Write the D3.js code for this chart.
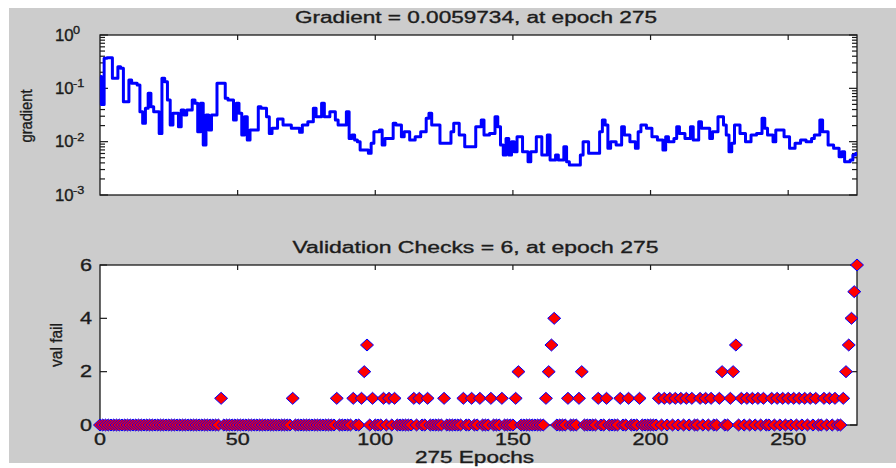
<!DOCTYPE html>
<html><head><meta charset="utf-8">
<script src="https://cdn.jsdelivr.net/npm/d3@7"></script>
<style>
body{margin:0;background:#fff;}
svg{display:block;}
text{font-family:"Liberation Sans",Arial,sans-serif;fill:#1c1c1c;stroke:#1c1c1c;stroke-width:0.35px;}
</style>
</head><body>
<svg id="c" width="896" height="468"></svg>
<script>
// ---------------- data ----------------
const gradTitle = "Gradient = 0.0059734, at epoch 275";
const valTitle = "Validation Checks = 6, at epoch 275";
const xLabel = "275 Epochs";
const gradLabel = "gradient";
const valLabel = "val fail";
const maxEpoch = 275;
const xTicks = [0, 50, 100, 150, 200, 250];
const gradTickExps = [0, -1, -2, -3];
const valTicks = [0, 2, 4, 6];

const gradient = [
  0.166, 0.050, 0.365, 0.376, 0.376, 0.154, 0.154, 0.255, 0.237, 0.0562,
  0.0562, 0.143, 0.124, 0.124, 0.115, 0.0365, 0.0221, 0.0422, 0.0806, 0.0453,
  0.0365, 0.0365, 0.0143, 0.154, 0.133, 0.0604, 0.0205, 0.0340, 0.0340, 0.0191,
  0.0393, 0.0316, 0.0393, 0.0393, 0.0604, 0.0524, 0.0154, 0.0524, 0.00866, 0.0316,
  0.0166, 0.0316, 0.0316, 0.124, 0.124, 0.124, 0.0649, 0.0604, 0.0604, 0.0255,
  0.0524, 0.0340, 0.0133, 0.0294, 0.0107, 0.0166, 0.0166, 0.0166, 0.0453, 0.0422,
  0.0422, 0.0294, 0.0143, 0.0178, 0.0178, 0.0266, 0.0266, 0.0205, 0.0205, 0.0205,
  0.0178, 0.0178, 0.0178, 0.0150, 0.0205, 0.0205, 0.0237, 0.0237, 0.0422, 0.0294,
  0.0294, 0.0524, 0.0294, 0.0294, 0.0365, 0.0365, 0.0255, 0.0205, 0.0205, 0.0205,
  0.0365, 0.0115, 0.0133, 0.0107, 0.0100, 0.00698, 0.00698, 0.00698, 0.00604, 0.00931,
  0.0154, 0.0154, 0.0166, 0.00866, 0.0115, 0.0115, 0.0115, 0.0221, 0.0205, 0.0205,
  0.0124, 0.0154, 0.0154, 0.0107, 0.0107, 0.0124, 0.0124, 0.0154, 0.0154, 0.0274,
  0.0340, 0.0205, 0.0205, 0.0205, 0.00931, 0.00931, 0.00931, 0.00931, 0.0154, 0.0221,
  0.0221, 0.0133, 0.0133, 0.00806, 0.00806, 0.00806, 0.00806, 0.0191, 0.0191, 0.0255,
  0.0133, 0.0133, 0.0143, 0.0143, 0.0294, 0.0191, 0.00866, 0.00562, 0.0115, 0.00562,
  0.0100, 0.00649, 0.0124, 0.0124, 0.00649, 0.00649, 0.00422, 0.00649, 0.00649, 0.0124,
  0.0124, 0.00562, 0.00562, 0.0133, 0.00453, 0.00453, 0.00562, 0.00453, 0.00453, 0.00806,
  0.00422, 0.00365, 0.00365, 0.00365, 0.00365, 0.00562, 0.0100, 0.0100, 0.00604, 0.00604,
  0.00604, 0.00604, 0.0154, 0.0255, 0.0205, 0.00750, 0.0100, 0.0100, 0.00866, 0.00866,
  0.0191, 0.0133, 0.0133, 0.0100, 0.0100, 0.00750, 0.0154, 0.0205, 0.0205, 0.0178,
  0.0178, 0.0124, 0.0124, 0.0107, 0.0107, 0.00698, 0.0124, 0.0100, 0.0100, 0.0115,
  0.0191, 0.0143, 0.0143, 0.0115, 0.0115, 0.0191, 0.0107, 0.0107, 0.0237, 0.0178,
  0.0178, 0.0178, 0.0115, 0.0154, 0.0154, 0.0294, 0.0294, 0.0205, 0.0133, 0.00649,
  0.00931, 0.0205, 0.0205, 0.0143, 0.0143, 0.0100, 0.0100, 0.0133, 0.0133, 0.0143,
  0.0143, 0.0274, 0.0178, 0.0133, 0.0133, 0.0100, 0.0166, 0.0166, 0.0166, 0.0124,
  0.0124, 0.00750, 0.00750, 0.00931, 0.00931, 0.0107, 0.0107, 0.0100, 0.0100, 0.0115,
  0.0133, 0.0133, 0.0255, 0.0154, 0.0154, 0.00866, 0.00866, 0.00750, 0.00750, 0.00523,
  0.00649, 0.00422, 0.00422, 0.00453, 0.00562, 0.0059734
];

const valFail = [
  0,0,0,0,0,0,0,0,0,0,
  0,0,0,0,0,0,0,0,0,0,
  0,0,0,0,0,0,0,0,0,0,
  0,0,0,0,0,0,0,0,0,0,
  0,0,0,0,1,0,0,0,0,0,
  0,0,0,0,0,0,0,0,0,0,
  0,0,0,0,0,0,0,0,0,0,
  1,0,0,0,0,0,0,0,0,0,
  0,0,0,0,0,0,1,0,0,0,
  0,0,1,0,0,1,2,3,0,1,
  0,0,0,1,0,1,0,1,0,0,
  0,0,0,0,1,0,1,0,0,1,
  0,0,0,0,0,1,0,0,0,0,
  0,0,1,0,0,1,0,0,1,0,
  0,0,1,0,0,0,1,0,0,0,
  0,1,2,0,0,0,0,0,0,0,
  0,0,1,2,3,4,0,0,0,0,
  1,0,0,0,1,2,0,0,0,0,
  0,1,0,0,1,0,0,0,0,1,
  0,0,1,0,0,0,1,0,0,0,
  0,0,0,1,0,1,0,1,0,1,
  0,1,0,1,0,1,0,0,1,0,
  1,0,1,0,0,1,2,0,0,1,
  2,3,0,1,0,1,0,1,0,1,
  0,1,0,0,1,0,1,0,1,0,
  1,0,1,0,1,0,1,0,1,0,
  1,0,0,1,0,1,0,1,0,0,
  1,2,3,4,5,6
];

// ---------------- drawing ----------------
const svg = d3.select("#c");
svg.append("rect").attr("x", 9).attr("y", 8).attr("width", 887).attr("height", 455).attr("fill", "#cccccc");

const L = 100, R = 857;
const top1 = 35, bot1 = 195, top2 = 265, bot2 = 425;
const x = d3.scaleLinear().domain([0, maxEpoch]).range([L, R]);
const yG = d3.scaleLog().domain([1e-3, 1]).range([bot1, top1]);
const yV = d3.scaleLinear().domain([0, 6]).range([bot2, top2]);
const axisColor = "#1a1a1a";

function frame(t, b) {
  svg.append("rect").attr("x", L).attr("y", t).attr("width", R - L).attr("height", b - t)
    .attr("fill", "#fff").attr("stroke", axisColor).attr("stroke-width", 1.3);
  const g = svg.append("g").attr("stroke", axisColor).attr("stroke-width", 1.2);
  xTicks.filter(v => v > 0).forEach(v => {
    g.append("line").attr("x1", x(v)).attr("x2", x(v)).attr("y1", t).attr("y2", t + 5);
    g.append("line").attr("x1", x(v)).attr("x2", x(v)).attr("y1", b).attr("y2", b - 5);
  });
  return g;
}

// ---- top: gradient ----
const g1 = frame(top1, bot1);
yG.ticks().forEach(v => {
  const major = Math.abs(Math.log10(v) - Math.round(Math.log10(v))) < 1e-9;
  const len = major ? 8 : 5;
  g1.append("line").attr("x1", L).attr("x2", L + len).attr("y1", yG(v)).attr("y2", yG(v));
  g1.append("line").attr("x1", R).attr("x2", R - len).attr("y1", yG(v)).attr("y2", yG(v));
});
gradTickExps.forEach(e => {
  const yy = yG(Math.pow(10, e));
  svg.append("text").attr("transform", `translate(55,${yy + 5.7}) scale(1.05,1)`)
    .attr("font-size", 16).text("10");
  svg.append("text").attr("transform", `translate(73,${yy - 1}) scale(1.15,1)`)
    .attr("font-size", 11).text(e === 0 ? "0" : "-" + Math.abs(e));
});
const line = d3.line().curve(d3.curveStep).x((d, i) => x(i)).y(d => yG(d));
svg.append("path").datum(gradient).attr("d", line).attr("fill", "none")
  .attr("stroke", "#0000ff").attr("stroke-width", 3).attr("stroke-linejoin", "round");

svg.append("text").attr("x", 476).attr("y", 23).attr("text-anchor", "middle")
  .attr("font-size", 16).attr("textLength", 362).attr("lengthAdjust", "spacingAndGlyphs").text(gradTitle);
svg.append("text").attr("transform", "translate(32,116) rotate(-90)").attr("text-anchor", "middle")
  .attr("font-size", 16).attr("textLength", 53).attr("lengthAdjust", "spacingAndGlyphs").text(gradLabel);

// ---- bottom: validation checks ----
const g2 = frame(top2, bot2);
valTicks.forEach(v => {
  g2.append("line").attr("x1", L).attr("x2", L + 7).attr("y1", yV(v)).attr("y2", yV(v));
  g2.append("line").attr("x1", R).attr("x2", R - 7).attr("y1", yV(v)).attr("y2", yV(v));
  svg.append("text").attr("transform", `translate(92,${yV(v) + 5.7}) scale(1.35,1)`)
    .attr("text-anchor", "end").attr("font-size", 16).text(v);
});
xTicks.forEach(v => {
  svg.append("text").attr("transform", `translate(${x(v)},445) scale(1.35,1)`)
    .attr("text-anchor", "middle").attr("font-size", 16).text(v);
});
const diamond = "M0,-6L6.5,0L0,6L-6.5,0Z";
svg.append("g").selectAll("path").data(valFail).join("path")
  .attr("d", diamond)
  .attr("transform", (d, i) => `translate(${x(i)},${yV(d)})`)
  .attr("fill", "#ff0000").attr("stroke", "#0000ff").attr("stroke-width", 1);

svg.append("text").attr("x", 475.5).attr("y", 253).attr("text-anchor", "middle")
  .attr("font-size", 16).attr("textLength", 366).attr("lengthAdjust", "spacingAndGlyphs").text(valTitle);
svg.append("text").attr("transform", "translate(62,345) rotate(-90)").attr("text-anchor", "middle")
  .attr("font-size", 16).attr("textLength", 44).attr("lengthAdjust", "spacingAndGlyphs").text(valLabel);
svg.append("text").attr("x", 474.5).attr("y", 463).attr("text-anchor", "middle")
  .attr("font-size", 16).attr("textLength", 119).attr("lengthAdjust", "spacingAndGlyphs").text(xLabel);
</script>
</body></html>
